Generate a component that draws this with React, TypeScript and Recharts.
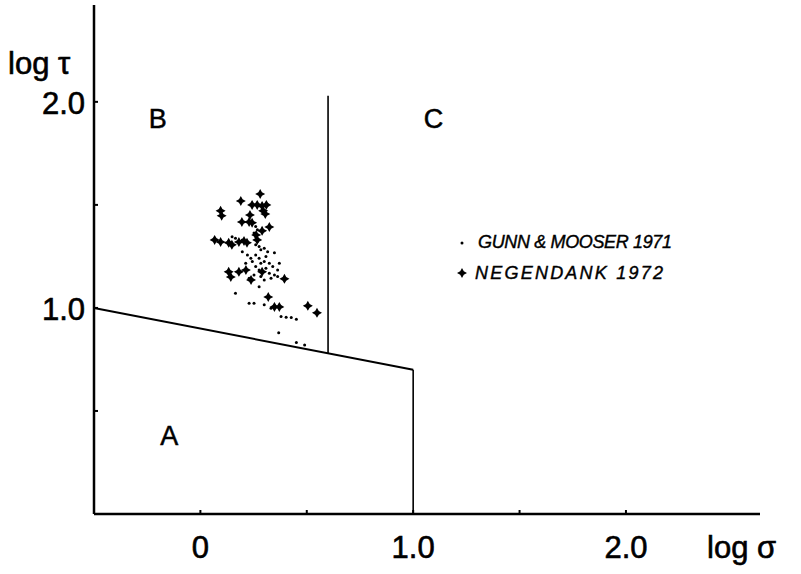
import React from "react";
import {
  Legend,
  ReferenceDot,
  ReferenceLine,
  Scatter,
  ScatterChart,
  XAxis,
  YAxis,
} from "recharts";

// Gunn & Mooser 1971 (small dots), [log sigma, log tau]
const gunnPoints: [number, number][] = [
  [0.149, 1.346], [0.165, 1.338], [0.197, 1.33], [0.252, 1.363], [0.26, 1.346],
  [0.268, 1.322], [0.26, 1.306], [0.276, 1.298], [0.284, 1.282], [0.3, 1.29],
  [0.316, 1.273], [0.348, 1.268], [0.221, 1.257], [0.237, 1.241], [0.26, 1.257],
  [0.276, 1.241], [0.244, 1.225], [0.213, 1.217], [0.284, 1.217], [0.3, 1.225],
  [0.324, 1.217], [0.34, 1.201], [0.363, 1.184], [0.26, 1.201], [0.276, 1.184],
  [0.308, 1.193], [0.324, 1.168], [0.348, 1.16], [0.252, 1.16], [0.229, 1.144],
  [0.284, 1.152], [0.3, 1.136], [0.332, 1.144], [0.363, 1.152], [0.276, 1.103],
  [0.165, 1.071], [0.229, 1.023], [0.252, 1.023], [0.3, 1.015], [0.332, 0.998],
  [0.379, 0.958], [0.403, 0.955], [0.427, 0.953], [0.451, 0.945], [0.368, 0.88],
  [0.451, 0.832], [0.49, 0.82], [0.197, 1.273], [0.371, 1.217], [0.308, 1.249],
  [0.316, 1.5], [0.26, 1.395], [0.268, 1.379], [0.133, 1.322],
];

// Negendank 1972 (crosses)
const negendankPoints: [number, number][] = [
  [0.281, 1.553], [0.19, 1.519], [0.243, 1.5], [0.267, 1.5], [0.29, 1.495],
  [0.31, 1.5], [0.095, 1.471], [0.1, 1.447], [0.295, 1.471], [0.305, 1.456],
  [0.233, 1.451], [0.195, 1.417], [0.229, 1.417], [0.243, 1.413], [0.324, 1.393],
  [0.29, 1.374], [0.067, 1.33], [0.095, 1.32], [0.133, 1.316], [0.148, 1.306],
  [0.181, 1.32], [0.205, 1.325], [0.219, 1.316], [0.262, 1.354], [0.267, 1.33],
  [0.133, 1.175], [0.143, 1.15], [0.181, 1.175], [0.214, 1.184], [0.238, 1.136],
  [0.29, 1.175], [0.395, 1.141], [0.319, 1.053], [0.348, 1.005], [0.371, 1.005],
  [0.505, 1.01], [0.548, 0.976],
];

// region boundaries
const boundaryAB = [{ x: -0.5, y: 1.0 }, { x: 1.0, y: 0.7 }];
const boundaryBC = [{ x: 0.6, y: 0.78 }, { x: 0.6, y: 2.03 }];
const boundaryAC = [{ x: 1.0, y: 0.7 }, { x: 1.0, y: 0 }];

const regionLabels = [
  { name: "A", x: -0.146, y: 0.383 },
  { name: "B", x: -0.2, y: 1.92 },
  { name: "C", x: 1.095, y: 1.92 },
];

const xTicks = [0, 0.5, 1.0, 1.5, 2.0];
const xTickLabels = ["0", "", "1.0", "", "2.0"];
const yTicks = [0.5, 1.0, 1.5, 2.0];
const yTickLabels = ["", "1.0", "", "2.0"];

const FONT = "'Liberation Sans', Arial, sans-serif";

const gunnData = gunnPoints.map(([x, y]) => ({ x, y }));
const negendankData = negendankPoints.map(([x, y]) => ({ x, y }));

function Cross({ cx, cy }: any) {
  const a = 5;
  const b = 1.8;
  return (
    <path
      d={`M${cx},${cy - a} L${cx + b},${cy - b} L${cx + a},${cy} L${cx + b},${cy + b} L${cx},${cy + a} L${cx - b},${cy + b} L${cx - a},${cy} L${cx - b},${cy - b} Z`}
      fill="#000"
    />
  );
}

function Dot({ cx, cy }: any) {
  return <circle cx={cx} cy={cy} r={1.5} fill="#000" />;
}

function XTick({ x, y, payload }: any) {
  const label = xTickLabels[xTicks.indexOf(payload.value)];
  return (
    <g>
      <line x1={x} x2={x} y1={y} y2={y - 4} stroke="#000" strokeWidth={2} />
      <text x={x} y={y + 44} textAnchor="middle" fontSize={31} fontFamily={FONT} fill="#000" stroke="#000" strokeWidth={0.6}>
        {label}
      </text>
    </g>
  );
}

function YTick({ x, y, payload }: any) {
  const label = yTickLabels[yTicks.indexOf(payload.value)];
  return (
    <g>
      <line x1={x} x2={x + 4} y1={y} y2={y} stroke="#000" strokeWidth={2} />
      <text x={x - 9} y={y + 12} textAnchor="end" fontSize={31} fontFamily={FONT} fill="#000" stroke="#000" strokeWidth={0.6}>
        {label}
      </text>
    </g>
  );
}

function LegendBox() {
  return (
    <svg width={260} height={70} style={{ display: "block" }}>
      <Dot cx={12} cy={18} />
      <text x={28} y={23} fontSize={18} fontStyle="italic" fontFamily={FONT} stroke="#000" strokeWidth={0.4} textLength={194} lengthAdjust="spacing">
        GUNN &amp; MOOSER 1971
      </text>
      <Cross cx={12} cy={48} />
      <text x={25} y={54} fontSize={18} fontStyle="italic" fontFamily={FONT} stroke="#000" strokeWidth={0.4} textLength={188} lengthAdjust="spacing">
        NEGENDANK 1972
      </text>
    </svg>
  );
}

export default function App() {
  return (
    <div style={{ position: "absolute", left: 0, top: 0, background: "#fff" }}>
      <ScatterChart width={801} height={574} margin={{ top: 5, right: 41, bottom: 0, left: 0 }}>
        <XAxis
          type="number"
          dataKey="x"
          domain={[-0.5, 2.63]}
          ticks={xTicks}
          allowDataOverflow
          height={60}
          tickSize={0}
          tickMargin={0}
          tickLine={false}
          axisLine={{ stroke: "#000", strokeWidth: 2.5 }}
          tick={<XTick />}
        />
        <YAxis
          type="number"
          dataKey="y"
          domain={[0, 2.47]}
          ticks={yTicks}
          allowDataOverflow
          width={94}
          tickSize={0}
          tickMargin={0}
          tickLine={false}
          axisLine={{ stroke: "#000", strokeWidth: 2.5 }}
          tick={<YTick />}
        />
        <ReferenceLine segment={boundaryAB} stroke="#000" strokeWidth={2} ifOverflow="visible" />
        <ReferenceLine segment={boundaryBC} stroke="#000" strokeWidth={1.6} ifOverflow="visible" />
        <ReferenceLine segment={boundaryAC} stroke="#000" strokeWidth={1.6} ifOverflow="visible" />
        {regionLabels.map((r) => (
          <ReferenceDot
            key={r.name}
            x={r.x}
            y={r.y}
            r={0}
            stroke="none"
            fill="none"
            ifOverflow="visible"
            label={{ value: r.name, position: "center", fontSize: 27, fill: "#000", stroke: "#000", strokeWidth: 0.5, fontFamily: FONT }}
          />
        ))}
        <Scatter name="GUNN & MOOSER 1971" data={gunnData} shape={<Dot />} isAnimationActive={false} />
        <Scatter name="NEGENDANK 1972" data={negendankData} shape={<Cross />} isAnimationActive={false} />
        <Legend
          layout="vertical"
          align="center"
          verticalAlign="middle"
          wrapperStyle={{ left: 450, top: 225, width: 260, height: 70 }}
          content={() => <LegendBox />}
        />
      </ScatterChart>
      <svg width={801} height={574} style={{ position: "absolute", left: 0, top: 0, pointerEvents: "none" }}>
        <text x={8} y={74} fontSize={31} fontFamily={FONT} fill="#000" stroke="#000" strokeWidth={0.6}>
          log τ
        </text>
        <text x={707} y={558} fontSize={31} fontFamily={FONT} fill="#000" stroke="#000" strokeWidth={0.6}>
          log σ
        </text>
      </svg>
    </div>
  );
}
